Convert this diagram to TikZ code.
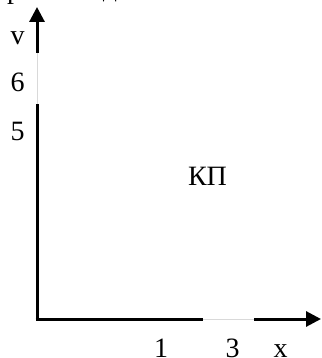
\documentclass[tikz,border=0pt]{standalone}
\usepackage{fontspec}
\setmainfont{Liberation Serif}
\usetikzlibrary{arrows.meta}
\begin{document}
\begin{tikzpicture}[x=1pt,y=-1pt,
  axis/.style={line width=3pt,black},
  axisgap/.style={line width=1pt,black!15},
  tip/.style={-{Triangle[length=15pt,width=15pt]}},
  lbl/.style={font=\fontsize{28}{32}\selectfont,inner sep=0pt,anchor=base}]
\useasboundingbox (0,0) rectangle (321,358);
\clip (0,0) rectangle (321,358);
% coordinates
\coordinate (O) at (37,319);
\coordinate (Yg1) at (37,104);
\coordinate (Yg2) at (37,53);
\coordinate (Ytop) at (37,7);
\coordinate (Xg1) at (203,319);
\coordinate (Xg2) at (254,319);
\coordinate (Xend) at (321,319);
% gaps
\draw[axisgap] (Yg1) -- (Yg2);
\draw[axisgap] (Xg1) -- (Xg2);
% axes
\draw[axis] (O) -- (Yg1);
\draw[axis,tip] (Yg2) -- (Ytop);
\draw[axis] ([xshift=-1.5pt]O) -- (Xg1);
\draw[axis,tip] (Xg2) -- (Xend);
% labels
\node[lbl] (v) at (17.5,45) {v};
\node[lbl] (six) at (17.5,92) {6};
\node[lbl] (five) at (17.5,140) {5};
\node[lbl] (kp) at (207.5,185) {КП};
\node[lbl] (one) at (161,357) {1};
\node[lbl] (three) at (232.5,357) {3};
\node[lbl] (xl) at (280.5,357) {x};
% cut-off text at the top
\node[lbl] (p) at (14,-1) {р};
\node[lbl] (d) at (110,-3) {д};
\end{tikzpicture}
\end{document}
